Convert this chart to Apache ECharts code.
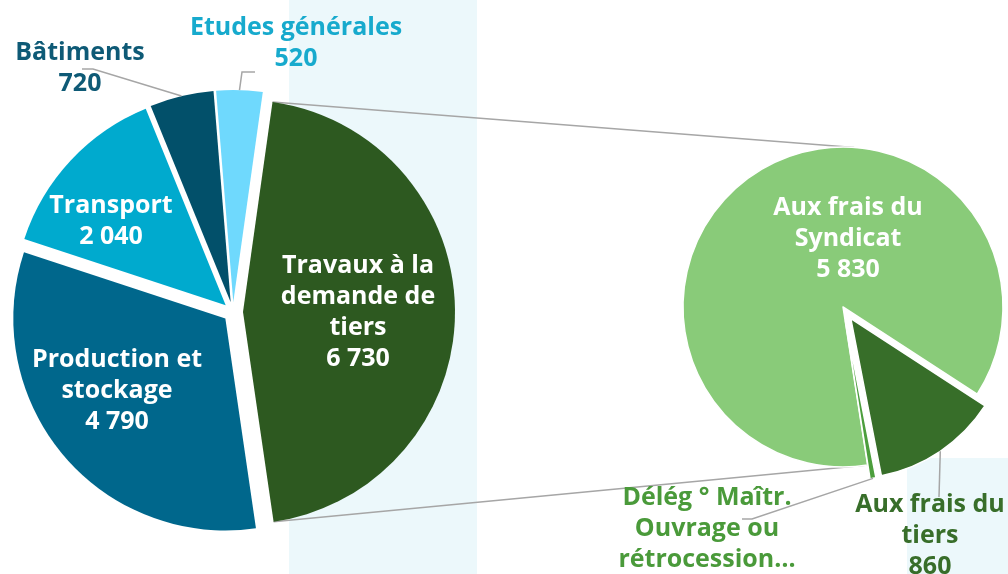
<!DOCTYPE html>
<html>
<head>
<meta charset="utf-8">
<script src="https://cdn.jsdelivr.net/npm/echarts@6/dist/echarts.min.js"></script>
<style>
  html, body { margin: 0; padding: 0; background: #ffffff; }
  #chart { width: 1008px; height: 574px; }
</style>
</head>
<body>
<div id="chart"></div>
<script>
// répartition principale (camembert de gauche)
var mainNames = ['Travaux à la\ndemande de\ntiers', 'Production et\nstockage', 'Transport', 'Bâtiments', 'Etudes générales'];
var mainValues = [6730, 4790, 2040, 720, 520];
var mainColors = ['#2D5920', '#00678C', '#00AACE', '#02506A', '#6FD9FD'];

// détail des travaux à la demande de tiers (camembert de droite)
var subNames = ['Aux frais du\ntiers', 'Délég ° Maîtr.\nOuvrage ou\nrétrocession…', 'Aux frais du\nSyndicat'];
var subValues = [860, 40, 5830];
var subColors = ['#376E29', '#4C9E3D', '#89CB79'];

// géométrie
var L = { cx: 233, cy: 312, r: 212, off: 10, start: 8 };   // start = angle depuis midi, sens horaire
var R = { cx: 843, cy: 307, r: 160, off: 14, start: 123 };

// positions des étiquettes (+ coude et fin du trait, relatifs à l'étiquette)
var mainLabelPos = [[358, 312], [117, 391], [111, 221], [80, 68], [296, 43]];
var mainLabelColors = ['#ffffff', '#ffffff', '#ffffff', '#0E5A76', '#17AACD'];
var mainGuide = [null, null, null, [[13, 1], [2, 1]], [[-54, 29], [-41, 29]]];
var subLabelPos = [[930, 536], [707, 544], [848, 239]];
var subLabelColors = ['#386E2A', '#4A9A3A', '#ffffff'];
var subGuide = [[[9, -39], [9, -39]], [[45, -25], [35, -25]], null];

function fmt(v) {
    return String(v).replace(/\B(?=(\d{3})+(?!\d))/g, ' ');
}

function pt(cx, cy, r, deg) {
    var a = deg * Math.PI / 180;
    return [cx + r * Math.sin(a), cy - r * Math.cos(a)];
}

function sum(a) {
    return a.reduce(function (x, y) { return x + y; }, 0);
}

// angle milieu d'une part et point sur l'arc de la part éclatée
function arcMid(G, values, i, exploded) {
    var total = sum(values);
    var a0 = G.start + 360 * sum(values.slice(0, i)) / total;
    var a1 = a0 + 360 * values[i] / total;
    var m = (a0 + a1) / 2;
    var c = exploded ? pt(G.cx, G.cy, G.off, m) : [G.cx, G.cy];
    return pt(c[0], c[1], G.r, m);
}

var font = '"Open Sans", Lato, sans-serif';

var mainTotal = sum(mainValues);
var subTotal = sum(subValues);

// lignes de liaison entre les deux camemberts
var travStart = L.start;
var travEnd = L.start + 360 * mainValues[0] / mainTotal;
var travMid = (travStart + travEnd) / 2;
var travC = pt(L.cx, L.cy, L.off, travMid);
var lineTopA = pt(travC[0], travC[1], L.r, travStart);
var lineBotA = pt(travC[0], travC[1], L.r, travEnd);
var syndStart = R.start + 360 * (subValues[0] + subValues[1]) / subTotal;
var lineTopB = pt(R.cx, R.cy, R.r, 4);
var lineBotB = pt(R.cx, R.cy, R.r, syndStart);

// parts (éclatées) sans étiquette
function sliceData(names, values, colors, sel) {
    return names.map(function (n, i) {
        return { name: n, value: values[i], selected: sel(i), itemStyle: { color: colors[i] } };
    });
}

// série transparente qui porte les étiquettes
function labelData(names, values, colors, guide) {
    return names.map(function (n, i) {
        var out = !!guide[i];
        return {
            name: n,
            value: values[i],
            label: { position: out ? 'outside' : 'inside', color: colors[i] },
            labelLine: { show: out }
        };
    });
}

var labelStyle = {
    show: true,
    fontFamily: font,
    fontWeight: 'bold',
    fontSize: 25,
    lineHeight: 31,
    align: 'center',
    formatter: function (p) { return p.name + '\n' + fmt(p.value); }
};

function labelSeries(G, names, values, colors, guide, pos, explodedAt) {
    return {
        type: 'pie',
        silent: true,
        z: 5,
        center: [G.cx, G.cy],
        radius: G.r,
        startAngle: 90 - G.start,
        clockwise: true,
        avoidLabelOverlap: false,
        itemStyle: { color: 'rgba(0,0,0,0)' },
        data: labelData(names, values, colors, guide),
        label: labelStyle,
        labelLine: { lineStyle: { color: '#A6A6A6', width: 1.5 } },
        labelLayout: function (p) {
            var q = pos[p.dataIndex];
            var res = { x: q[0], y: q[1], align: 'center', verticalAlign: 'middle' };
            var g = guide[p.dataIndex];
            if (g) {
                res.labelLinePoints = [
                    arcMid(G, values, p.dataIndex, explodedAt(p.dataIndex)),
                    [q[0] + g[0][0], q[1] + g[0][1]],
                    [q[0] + g[1][0], q[1] + g[1][1]]
                ];
            }
            return res;
        },
        emphasis: { disabled: true }
    };
}

var chart = echarts.init(document.getElementById('chart'));

var option = {
    animation: false,
    backgroundColor: '#ffffff',
    graphic: {
        elements: [
            { type: 'rect', silent: true, z: -10, shape: { x: 289, y: 0, width: 188, height: 574 }, style: { fill: '#ECF8FB' } },
            { type: 'rect', silent: true, z: -10, shape: { x: 907, y: 458, width: 101, height: 116 }, style: { fill: '#ECF8FB' } },
            { type: 'line', silent: true, shape: { x1: lineTopA[0], y1: lineTopA[1], x2: lineTopB[0], y2: lineTopB[1] }, style: { stroke: '#A6A6A6', lineWidth: 1.5 } },
            { type: 'line', silent: true, shape: { x1: lineBotA[0], y1: lineBotA[1], x2: lineBotB[0], y2: lineBotB[1] }, style: { stroke: '#A6A6A6', lineWidth: 1.5 } }
        ]
    },
    series: [
        {
            type: 'pie',
            silent: true,
            center: [L.cx, L.cy],
            radius: L.r,
            startAngle: 90 - L.start,
            clockwise: true,
            selectedMode: 'multiple',
            selectedOffset: L.off,
            data: sliceData(mainNames, mainValues, mainColors, function () { return true; }),
            label: { show: false },
            labelLine: { show: false }
        },
        {
            type: 'pie',
            silent: true,
            center: [R.cx, R.cy],
            radius: R.r,
            startAngle: 90 - R.start,
            clockwise: true,
            selectedMode: 'multiple',
            selectedOffset: R.off,
            data: sliceData(subNames, subValues, subColors, function (i) { return i < 2; }),
            itemStyle: { borderColor: '#ffffff', borderWidth: 1.5 },
            label: { show: false },
            labelLine: { show: false }
        },
        labelSeries(L, mainNames, mainValues, mainLabelColors, mainGuide, mainLabelPos, function () { return true; }),
        labelSeries(R, subNames, subValues, subLabelColors, subGuide, subLabelPos, function (i) { return i < 2; })
    ]
};

chart.setOption(option);
</script>
</body>
</html>
